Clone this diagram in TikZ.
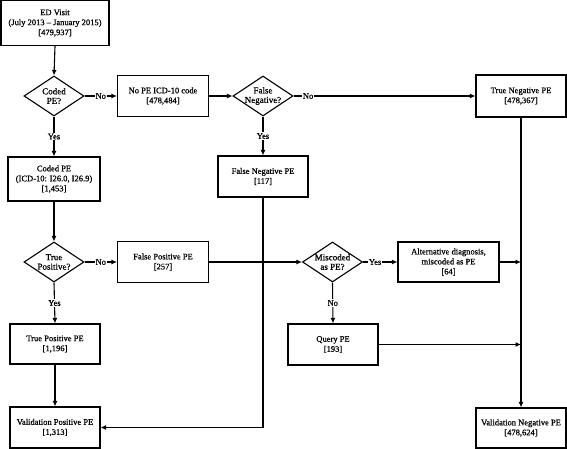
\documentclass[tikz,border=0pt]{standalone}
\usepackage{fontspec}
\setmainfont{Liberation Serif}[RawFeature={embolden=0.8}]
\usetikzlibrary{shapes.geometric,arrows.meta}

\tikzset{
  box/.style={draw, line width=1.1pt, align=center, inner sep=1pt, font=\fontsize{8.5}{10}\selectfont},
  query/.style={draw, line width=1.1pt, shape=diamond, aspect=1.5, inner sep=-1.5pt, align=center,
    minimum width=60pt, minimum height=40pt, font=\fontsize{9}{9.5}\selectfont},
  flow/.style={line width=1.1pt, -{Latex[length=5.5pt,width=5pt]}},
  tag/.style={fill=white, inner sep=1pt, font=\fontsize{8.5}{9}\selectfont},
}

\begin{document}
\begin{tikzpicture}[x=1pt, y=-1pt]
\useasboundingbox (0,0) rectangle (567,449);
% boxes
\node[box, minimum width=108pt, minimum height=45pt] (ed) at (55,23) {ED Visit\\(July 2013 -- January 2015)\\{[479,937]}};
\node[query] (coded) at (54,96) {Coded\\PE?};
\node[box, minimum width=91pt, minimum height=41pt] (nope) at (163,96) {No PE ICD-10 code\\{[478,484]}};
\node[query] (fneg) at (263,96) {False\\Negative?};
\node[box, minimum width=90pt, minimum height=42pt] (tneg) at (521,96) {True Negative PE\\{[478,367]}};
\node[box, minimum width=92pt, minimum height=44pt] (codedpe) at (54,179) {Coded PE\\(ICD-10: I26.0, I26.9)\\{[1,453]}};
\node[box, minimum width=90pt, minimum height=41pt] (fnegpe) at (263,176.5) {False Negative PE\\{[117]}};
\node[query] (tpos) at (54,262) {True\\Positive?};
\node[box, minimum width=91pt, minimum height=41pt] (fpos) at (163,262) {False Positive PE\\{[257]}};
\node[query] (misc) at (332.5,262) {Miscoded\\as PE?};
\node[box, minimum width=101pt, minimum height=40pt] (alt) at (448.5,262) {Alternative diagnosis,\\miscoded as PE\\{[64]}};
\node[box, minimum width=90pt, minimum height=40pt] (tppe) at (55,344) {True Positive PE\\{[1,196]}};
\node[box, minimum width=90pt, minimum height=41pt] (qpe) at (333,344.5) {Query PE\\{[193]}};
\node[box, minimum width=90pt, minimum height=41pt] (vpos) at (55,427.5) {Validation Positive PE\\{[1,313]}};
\node[box, minimum width=90pt, minimum height=40pt] (vneg) at (521,428) {Validation Negative PE\\{[478,624]}};
\coordinate (altend) at (tneg.south |- alt.east);
\coordinate (qend) at (tneg.south |- qpe.east);
% connectors
\draw[flow] (ed.south) -- (coded.north);
\draw[flow] (coded.east) -- node[tag] {No} (nope.west);
\draw[flow] (nope.east) -- (fneg.west);
\draw[flow] (fneg.east) -- node[tag, pos=0.08] {No} (tneg.west);
\draw[flow] (coded.south) -- node[tag] {Yes} (codedpe.north);
\draw[flow] (fneg.south) -- node[tag] {Yes} (fnegpe.north);
\draw[flow] (codedpe.south) -- (tpos.north);
\draw[flow] (tpos.east) -- node[tag] {No} (fpos.west);
\draw[flow] (tpos.south) -- node[tag] {Yes} (tppe.north);
\draw[flow] (fpos.east) -- (misc.west);
\draw[flow] (fnegpe.south) |- (vpos.east);
\fill (fnegpe.south |- fpos.east) circle (1.3pt);
\draw[flow] (tppe.south) -- (vpos.north);
\draw[flow] (misc.east) -- node[tag, pos=0.35] {Yes} (alt.west);
\draw[flow] (misc.south) -- node[tag] {No} (qpe.north);
\draw[flow] (alt.east) -- (altend);
\draw[flow] (qpe.east) -- (qend);
\draw[flow] (tneg.south) -- (vneg.north);
\end{tikzpicture}
\end{document}
